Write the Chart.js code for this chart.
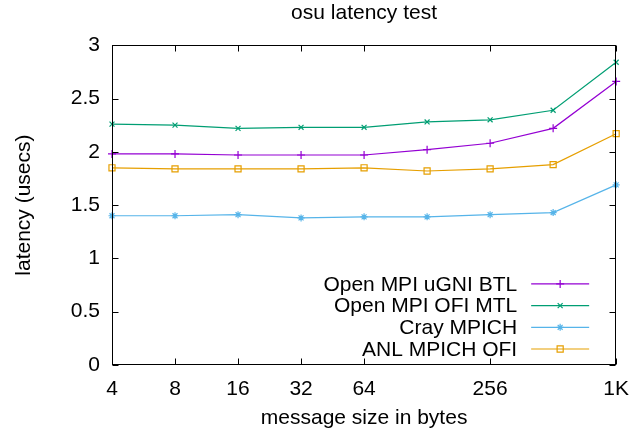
<!DOCTYPE html>
<html>
<head>
<meta charset="utf-8">
<title>osu latency test</title>
<script src="https://cdn.jsdelivr.net/npm/chart.js@4.4.1/dist/chart.umd.min.js"></script>
<style>
  html, body { margin: 0; padding: 0; background: #fff; }
  #wrap { width: 641px; height: 433px; }
</style>
</head>
<body>
<div id="wrap"><canvas id="latencyChart" width="641" height="433"></canvas></div>
<script>
// message sizes in bytes (x axis, log2)
const msgSizes = [4, 8, 16, 32, 64, 128, 256, 512, 1024];

// latency in usecs
const ompiUgniBtl = [1.98, 1.98, 1.97, 1.97, 1.97, 2.02, 2.08, 2.22, 2.66];
const ompiOfiMtl  = [2.26, 2.25, 2.22, 2.23, 2.23, 2.28, 2.30, 2.39, 2.84];
const crayMpich   = [1.40, 1.40, 1.41, 1.38, 1.39, 1.39, 1.41, 1.43, 1.69];
const anlMpichOfi = [1.85, 1.84, 1.84, 1.84, 1.85, 1.82, 1.84, 1.88, 2.17];

const seriesNames = ['Open MPI uGNI BTL', 'Open MPI OFI MTL', 'Cray MPICH', 'ANL MPICH OFI'];

// tick values + labels
const xTickValues = [4, 8, 16, 32, 64, 256, 1024];
const xTickLabels = ['4', '8', '16', '32', '64', '256', '1K'];
const yTickValues = [0, 0.5, 1, 1.5, 2, 2.5, 3];
const yTickLabels = ['0', '0.5', '1', '1.5', '2', '2.5', '3'];

const FONT = '"Liberation Sans", Arial, Helvetica, sans-serif';
const FONT_SIZE = 21;

Chart.defaults.color = '#000';
Chart.defaults.font.family = FONT;
Chart.defaults.font.size = FONT_SIZE;

function toPoints(values) {
    return msgSizes.map((s, i) => ({ x: s, y: values[i] }));
}

function makeSet(label, values, color, style, radius) {
    return {
        label: label,
        data: toPoints(values),
        borderColor: color,
        backgroundColor: 'rgba(0,0,0,0)',
        borderWidth: 1.2,
        pointStyle: style,
        pointRadius: radius,
        pointBorderWidth: 1.2,
        pointBorderColor: color,
        pointBackgroundColor: 'rgba(0,0,0,0)',
        tension: 0,
        fill: false,
        clip: false
    };
}

// gnuplot style box with inward ticks on all sides
const frameTicks = {
    id: 'frameTicks',
    afterDatasetsDraw(chart) {
        const { ctx, chartArea: a, scales } = chart;
        const L = Math.round(a.left) + 0.5, R = Math.round(a.right) - 0.5;
        const T = Math.round(a.top) + 0.5, B = Math.round(a.bottom) - 0.5;
        const len = 6;
        ctx.save();
        ctx.strokeStyle = '#000';
        ctx.lineWidth = 1;
        ctx.beginPath();
        scales.x.ticks.forEach(t => {
            const px = Math.round(scales.x.getPixelForValue(t.value)) + 0.5;
            ctx.moveTo(px, B); ctx.lineTo(px, B - len);
            ctx.moveTo(px, T); ctx.lineTo(px, T + len);
        });
        scales.y.ticks.forEach(t => {
            const py = Math.round(scales.y.getPixelForValue(t.value)) + 0.5;
            ctx.moveTo(L, py); ctx.lineTo(L + len, py);
            ctx.moveTo(R, py); ctx.lineTo(R - len, py);
        });
        ctx.stroke();
        ctx.strokeRect(L, T, R - L, B - T);
        ctx.restore();
    }
};

// key in the lower right corner, text first then sample
const insideKey = {
    id: 'insideKey',
    afterDraw(chart) {
        const { ctx, chartArea: a } = chart;
        const rowH = 21.7;
        const n = chart.data.datasets.length;
        const textRight = a.right - 99;
        const lineL = a.right - 85, lineR = a.right - 27;
        const firstY = a.bottom - 16 - (n - 1) * rowH;
        ctx.save();
        ctx.font = FONT_SIZE + 'px ' + FONT;
        ctx.textAlign = 'right';
        ctx.textBaseline = 'middle';
        chart.data.datasets.forEach((ds, i) => {
            const y = firstY + i * rowH;
            ctx.fillStyle = '#000';
            ctx.fillText(ds.label, textRight, y + 1);
            ctx.strokeStyle = ds.borderColor;
            ctx.lineWidth = ds.borderWidth;
            ctx.beginPath();
            ctx.moveTo(lineL, y); ctx.lineTo(lineR, y);
            ctx.stroke();
            ctx.fillStyle = 'rgba(0,0,0,0)';
            Chart.helpers.drawPoint(ctx, {
                pointStyle: ds.pointStyle,
                radius: ds.pointRadius,
                borderWidth: ds.pointBorderWidth,
                rotation: 0
            }, (lineL + lineR) / 2, y);
        });
        ctx.restore();
    }
};

const chart = new Chart(document.getElementById('latencyChart'), {
    type: 'line',
    data: {
        datasets: [
            makeSet(seriesNames[0], ompiUgniBtl, '#9400d3', 'cross', 4),
            makeSet(seriesNames[1], ompiOfiMtl, '#009e73', 'crossRot', 3.5),
            makeSet(seriesNames[2], crayMpich, '#56b4e9', 'star', 3.5),
            makeSet(seriesNames[3], anlMpichOfi, '#e69f00', 'rect', 4.3)
        ]
    },
    options: {
        responsive: false,
        animation: false,
        layout: { padding: { right: 24, left: 0, top: 0, bottom: 0 } },
        plugins: {
            legend: { display: false },
            tooltip: { enabled: false },
            title: {
                display: true,
                text: 'osu latency test',
                fullSize: false,
                font: { size: FONT_SIZE, weight: 'normal' },
                padding: { top: 1, bottom: 19 }
            }
        },
        scales: {
            x: {
                type: 'logarithmic',
                min: 4,
                max: 1024,
                grid: { display: false, drawTicks: false },
                border: { display: false },
                afterBuildTicks(scale) {
                    scale.ticks = xTickValues.map(v => ({ value: v }));
                },
                afterFit(scale) { scale.height = 68; },
                ticks: {
                    padding: 12,
                    autoSkip: false,
                    maxRotation: 0,
                    callback(value) {
                        const i = xTickValues.indexOf(value);
                        return i >= 0 ? xTickLabels[i] : '';
                    }
                },
                title: {
                    display: true,
                    text: 'message size in bytes',
                    padding: { top: 0, bottom: 2 }
                }
            },
            y: {
                min: 0,
                max: 3,
                grid: { display: false, drawTicks: false },
                border: { display: false },
                afterBuildTicks(scale) {
                    scale.ticks = yTickValues.map(v => ({ value: v }));
                },
                afterFit(scale) { scale.width = 112; },
                ticks: {
                    padding: 12,
                    callback(value) {
                        const i = yTickValues.indexOf(value);
                        return i >= 0 ? yTickLabels[i] : '';
                    }
                },
                title: {
                    display: true,
                    text: 'latency (usecs)',
                    padding: { top: 12, bottom: 0 }
                }
            }
        }
    },
    plugins: [frameTicks, insideKey]
});
</script>
</body>
</html>
